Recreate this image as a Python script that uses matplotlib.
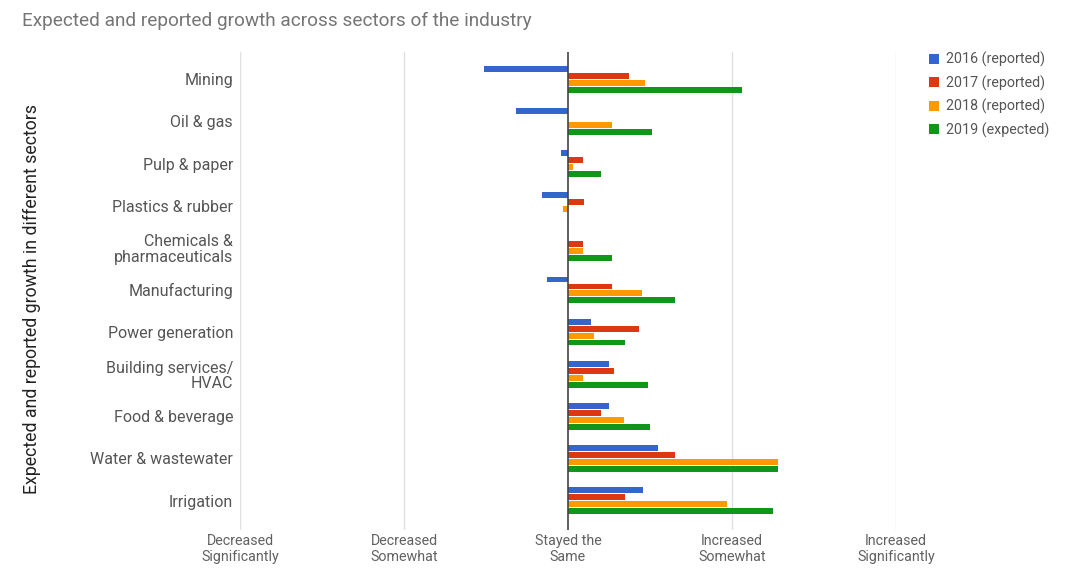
import numpy as np
import matplotlib.pyplot as plt

plt.rcParams['font.family'] = ['Roboto', 'DejaVu Sans']

# Data (scale: -2 .. 2)
sectors = ['Mining', 'Oil & gas', 'Pulp & paper', 'Plastics & rubber',
           'Chemicals &\npharmaceuticals', 'Manufacturing', 'Power generation',
           'Building services/\nHVAC', 'Food & beverage', 'Water & wastewater',
           'Irrigation']
series_names = ['2016 (reported)', '2017 (reported)', '2018 (reported)', '2019 (expected)']
v2016 = [-0.51, -0.32, -0.04, -0.16, 0.0, -0.13, 0.14, 0.25, 0.25, 0.55, 0.46]
v2017 = [0.37, 0.0, 0.09, 0.10, 0.09, 0.27, 0.43, 0.28, 0.20, 0.65, 0.35]
v2018 = [0.47, 0.27, 0.03, -0.03, 0.09, 0.45, 0.16, 0.09, 0.34, 1.28, 0.97]
v2019 = [1.06, 0.51, 0.20, 0.0, 0.27, 0.65, 0.35, 0.49, 0.50, 1.28, 1.25]
x_ticks = [-2, -1, 0, 1, 2]
x_labels = ['Decreased\nSignificantly', 'Decreased\nSomewhat', 'Stayed the\nSame',
            'Increased\nSomewhat', 'Increased\nSignificantly']
colors = ['#3366cc', '#dc3912', '#ff9900', '#109618']

fig = plt.figure(figsize=(10.74, 5.74), dpi=100)
ax = fig.add_axes([240 / 1074, 1 - 530 / 574, 656 / 1074, 478 / 574])

y = np.arange(len(sectors))
step = 0.166
bar_h = 0.14
handles = []
for i, (vals, col, name) in enumerate(zip([v2016, v2017, v2018, v2019], colors, series_names)):
    off = (i - 1.5) * step
    h = ax.barh(y + off, vals, height=bar_h, color=col, label=name, zorder=3)
    handles.append(h)

ax.set_xlim(-2, 2)
ax.set_ylim(10.70, -0.65)

for xv in x_ticks:
    if xv != 0:
        ax.axvline(xv, color='#e0e0e0', lw=1, zorder=1)
ax.axvline(0, color='#444444', lw=1.2, zorder=4)

for s in ax.spines.values():
    s.set_visible(False)

ax.set_xticks(x_ticks)
ax.set_xticklabels(x_labels, fontsize=10.3, color='#616161', linespacing=1.2)
ax.tick_params(axis='x', length=0, pad=3)
ax.set_yticks(y)
ax.set_yticklabels(sectors, fontsize=11.5, color='#555555', linespacing=1.05)
ax.tick_params(axis='y', length=0, pad=5)

fig.text(22 / 1074, 1 - 21 / 574, 'Expected and reported growth across sectors of the industry',
         fontsize=13.7, color='#757575', va='center', ha='left')
fig.text(32 / 1074, 1 - 299 / 574, 'Expected and reported growth in different sectors',
         fontsize=12.8, color='#222222', rotation=90, va='center', ha='center')

fig.legend(handles=handles, labels=series_names, loc='upper left',
           bbox_to_anchor=(916 / 1074, 1 - 39 / 574), frameon=False,
           fontsize=10.3, labelcolor='#555555', handlelength=0.7, handleheight=0.7,
           handletextpad=0.5, labelspacing=0.57)

fig.savefig('out.png', dpi=100)
